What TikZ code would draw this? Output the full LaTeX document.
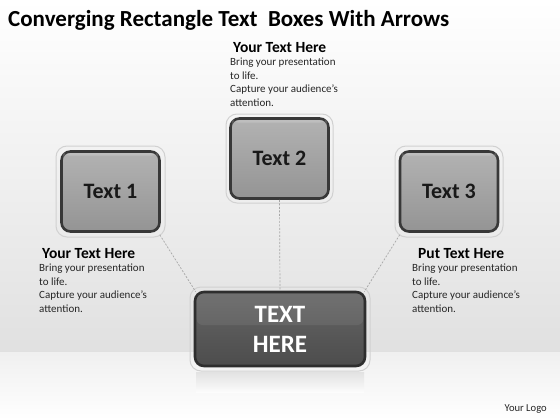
\documentclass[tikz,border=0pt]{standalone}
\usepackage{fontspec}
\setmainfont{Carlito}
\begin{document}
\begin{tikzpicture}[x=1pt,y=-1pt,
  gbox/.style={draw=black!78,line width=2.6pt,rounded corners=9pt,
    top color=black!30,bottom color=black!42,minimum width=98pt,minimum height=80pt,
    font=\bfseries\fontsize{22}{24}\selectfont,text=black!90,inner sep=0pt},
  dbox/.style={draw=black!82,line width=2.6pt,rounded corners=9pt,
    top color=black!60,bottom color=black!70,minimum width=170pt,minimum height=74pt,
    font=\bfseries\fontsize{25}{30}\selectfont,text=white,align=center,inner sep=0pt},
  rim/.style={draw=black!18,line width=1pt,rounded corners=11pt},
  conn/.style={draw=black!35,dash pattern=on 2pt off 1.5pt,line width=0.7pt},
  head/.style={font=\bfseries\fontsize{15.5}{17}\selectfont,anchor=north west,inner sep=0pt},
  body/.style={font=\fontsize{11}{13.5}\selectfont,anchor=north west,align=left,inner sep=0pt,text=black!85}]
\useasboundingbox (0,0) rectangle (560,420);
\shade[top color=white,bottom color=black!12] (0,0) rectangle (560,352);
\shade[top color=black!6,bottom color=white] (0,352) rectangle (560,420);
% title
\node[anchor=base west,inner sep=0pt,font=\bfseries\fontsize{23}{26}\selectfont] (title) at (8,27) {Converging Rectangle Text\ \ Boxes With Arrows};
% rims
\draw[rim] (226,114) rectangle (333,203);
\draw[rim] (56,146) rectangle (165,237);
\draw[rim] (395,146) rectangle (503,237);
\draw[rim] (190,287) rectangle (370,371);
% boxes
\node[gbox] (b2) at (279.5,158.5) {Text 2};
\node[gbox] (b1) at (110.5,191.5) {Text 1};
\node[gbox] (b3) at (449,191.5) {Text 3};
\node[dbox] (c) at (280,329) {TEXT\\HERE};
% glossy highlights
\foreach \n in {b1,b2,b3}{
  \fill[white,opacity=0.16,rounded corners=6pt] ([shift={(3,3)}]\n.north west) rectangle ([shift={(-3,-36)}]\n.east);
}
\fill[white,opacity=0.07,rounded corners=6pt] ([shift={(3,3)}]c.north west) rectangle ([shift={(-3,-4)}]c.east);
% reflection
\shade[top color=black!18,bottom color=white,opacity=0.5] (196,372) rectangle (364,392);
% connectors
\draw[conn] (b2.south) -- (c.north);
\draw[conn] ([shift={(-1,2)}]b1.south east) -- ([shift={(2,1)}]c.north west);
\draw[conn] ([shift={(1,2)}]b3.south west) -- ([shift={(-2,1)}]c.north east);
% text blocks
\node[head] (h2) at (233,42) {Your Text Here};
\node[body] (t2) at (230,58) {Bring your presentation\\to life.\\Capture your audience’s\\attention.};
\node[head] (h1) at (42,248) {Your Text Here};
\node[body] (t1) at (39,264) {Bring your presentation\\to life.\\Capture your audience’s\\attention.};
\node[head] (h3) at (418,248) {Put Text Here};
\node[body] (t3) at (412,264) {Bring your presentation\\to life.\\Capture your audience’s\\attention.};
\node[anchor=base east,inner sep=0pt,font=\fontsize{10.6}{12}\selectfont,text=black!85] (logo) at (547,411) {Your Logo};
\end{tikzpicture}
\end{document}
